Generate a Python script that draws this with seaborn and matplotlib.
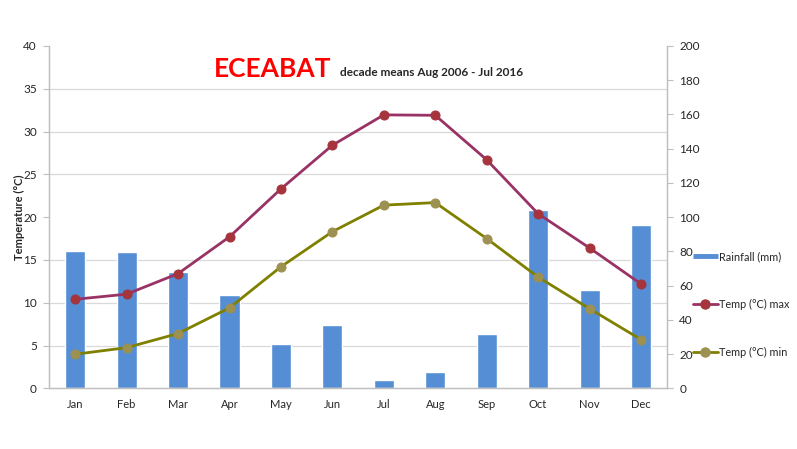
import numpy as np
import pandas as pd
import seaborn as sns
import matplotlib.pyplot as plt
from matplotlib.ticker import MultipleLocator, FixedLocator
from matplotlib.lines import Line2D

months = ["Jan", "Feb", "Mar", "Apr", "May", "Jun", "Jul", "Aug", "Sep", "Oct", "Nov", "Dec"]
rainfall = [80.3, 79.9, 68.2, 54.6, 25.7, 37.0, 5.0, 9.4, 31.9, 103.9, 57.7, 95.5]
temp_max = [10.4, 11.0, 13.4, 17.7, 23.3, 28.4, 31.95, 31.9, 26.7, 20.4, 16.4, 12.2]
temp_min = [3.98, 4.75, 6.4, 9.4, 14.2, 18.3, 21.4, 21.7, 17.5, 13.0, 9.3, 5.7]

df = pd.DataFrame({"month": months, "rain": rainfall, "tmax": temp_max, "tmin": temp_min})
df["x"] = np.arange(len(months))

sns.set_style("white")
plt.rcParams["font.family"] = ["Lato", "DejaVu Sans"]

bar_col = "#558ed5"
max_col = "#993366"
max_mk = "#a5343c"
min_col = "#808000"
min_mk = "#9c9150"
grey = "#bfbfbf"

fig = plt.figure(figsize=(7.97, 4.49), dpi=100)
ax = fig.add_axes([0.0621, 0.1352, 0.7744, 0.7624])
ax2 = ax.twinx()

# rainfall bars on the right axis, underneath
sns.barplot(data=df, x="month", y="rain", color=bar_col, width=0.39, saturation=1,
            ax=ax2, zorder=2)
ax2.set_ylim(0, 200)
ax2.yaxis.set_major_locator(MultipleLocator(20))
ax2.yaxis.set_minor_locator(MultipleLocator(25))
ax2.grid(which="minor", axis="y", color="#d9d9d9", linewidth=0.9, zorder=0)
ax2.set_axisbelow(True)
ax2.set_ylabel("")
ax2.set_xlabel("")

# temperature lines on the left axis, on top
ax.set_zorder(ax2.get_zorder() + 1)
ax.patch.set_visible(False)
sns.lineplot(data=df, x="x", y="tmax", color=max_col, linewidth=2, marker="o",
             markersize=6.5, markerfacecolor=max_mk, markeredgecolor=max_mk, ax=ax)
sns.lineplot(data=df, x="x", y="tmin", color=min_col, linewidth=2, marker="o",
             markersize=6.5, markerfacecolor=min_mk, markeredgecolor=min_mk, ax=ax)
ax.set_ylim(0, 40)
ax.set_xlim(-0.5, 11.5)
ax2.set_xlim(-0.5, 11.5)
ax.yaxis.set_major_locator(MultipleLocator(5))
ax.set_xticks(df["x"])
ax.set_xticklabels(months)
ax.xaxis.set_minor_locator(FixedLocator(np.arange(-0.5, 12, 1)))
ax.tick_params(axis="x", which="major", length=0, pad=8, labelsize=8)
ax.tick_params(axis="x", which="minor", length=5, color=grey, direction="out")
ax.tick_params(axis="y", length=4, color=grey, direction="out", labelsize=8.5, pad=5)
ax2.tick_params(axis="y", which="major", length=4, color=grey, direction="out", labelsize=8.5, pad=5)
ax2.tick_params(axis="y", which="minor", length=0)
ax2.tick_params(axis="x", length=0, labelbottom=False)
ax.set_xlabel("")
ax.set_ylabel("Temperature (°C)", fontsize=8, fontweight="bold", labelpad=-1)

for a in (ax, ax2):
    for s in ("left", "right", "bottom"):
        a.spines[s].set_color(grey)
        a.spines[s].set_linewidth(0.9)
    a.spines["top"].set_visible(False)

fig.text(0.268, 0.828, "ECEABAT", color="#ff0000", fontsize=19, fontweight="bold")
fig.text(0.426, 0.830, "decade means Aug 2006 - Jul 2016", fontsize=8.5, fontweight="bold")

handles = [
    Line2D([], [], color=bar_col, linewidth=3.5, solid_capstyle="butt", label="Rainfall (mm)"),
    Line2D([], [], color=max_col, linewidth=2, marker="o", markersize=6.5,
           markerfacecolor=max_mk, markeredgecolor=max_mk, label="Temp (°C) max"),
    Line2D([], [], color=min_col, linewidth=2, marker="o", markersize=6.5,
           markerfacecolor=min_mk, markeredgecolor=min_mk, label="Temp (°C) min"),
]
fig.legend(handles=handles, loc="upper left", bbox_to_anchor=(0.8695, 0.441),
           frameon=False, fontsize=7.8, labelspacing=3.4, handlelength=2.3,
           handletextpad=0.1, borderpad=0, borderaxespad=0)

fig.savefig("out.png", dpi=100)
